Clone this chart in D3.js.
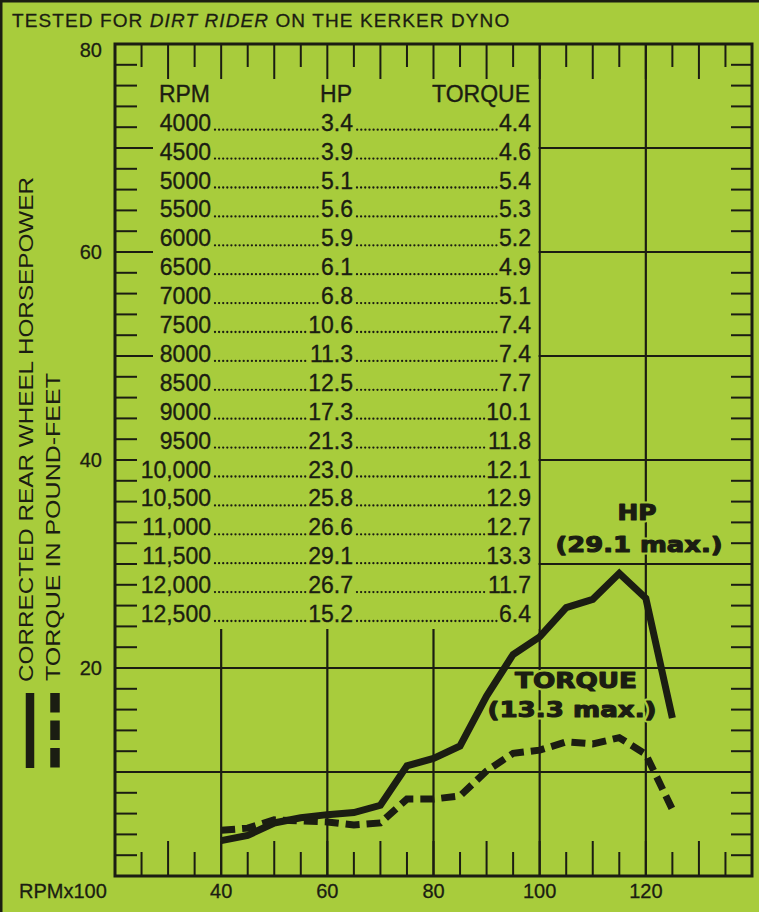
<!DOCTYPE html>
<meta charset="utf-8" />
<script src="https://d3js.org/d3.v7.min.js"></script>
<style>
  body { margin: 0; background: #a8cc3c; }
  text { font-family: "Liberation Sans", Arial, sans-serif; fill: #1b1d12; }
</style>

<svg width="759" height="912" id="dyno"></svg>

<script>
  // dyno readings (rpm, corrected rear wheel hp, torque lb-ft)
  var rpm = [4000, 4500, 5000, 5500, 6000, 6500, 7000, 7500, 8000, 8500,
             9000, 9500, 10000, 10500, 11000, 11500, 12000, 12500];
  var hp = [3.4, 3.9, 5.1, 5.6, 5.9, 6.1, 6.8, 10.6, 11.3, 12.5,
            17.3, 21.3, 23.0, 25.8, 26.6, 29.1, 26.7, 15.2];
  var torque = [4.4, 4.6, 5.4, 5.3, 5.2, 4.9, 5.1, 7.4, 7.4, 7.7,
                10.1, 11.8, 12.1, 12.9, 12.7, 13.3, 11.7, 6.4];

  var xLabels = [40, 60, 80, 100, 120];
  var yLabels = [20, 40, 60, 80];
  var tableHead = ["RPM", "HP", "TORQUE"];

  var bg = "#a8cc3c", ink = "#1b1d12";

  var svg = d3.select("svg");

  var x = d3.scaleLinear().domain([20, 140]).range([115, 752]);
  var y = d3.scaleLinear().domain([0, 80]).range([876, 44]);

  svg.append("rect").attr("width", 759).attr("height", 912).style("fill", bg);
  // scan edge
  svg.append("line").attr("x1", 0).attr("x2", 759).attr("y1", 1).attr("y2", 1)
    .style("stroke", ink).style("stroke-width", 3);
  svg.append("line").attr("x1", 1).attr("x2", 1).attr("y1", 0).attr("y2", 912)
    .style("stroke", ink).style("stroke-width", 3);

  // title
  var title = svg.append("text").attr("x", 12).attr("y", 27)
    .style("font-size", "19px").style("letter-spacing", "1.1px")
    .style("stroke", ink).style("stroke-width", 0.3);
  title.append("tspan").text("TESTED FOR ");
  title.append("tspan").style("font-style", "italic").text("DIRT RIDER");
  title.append("tspan").text(" ON THE KERKER DYNO");

  // grid
  var grid = svg.append("g").style("stroke", ink).style("stroke-width", 2.2);
  grid.selectAll("line.v").data(xLabels).enter().append("line")
    .attr("x1", d => x(d)).attr("x2", d => x(d))
    .attr("y1", y(80)).attr("y2", y(0));
  grid.selectAll("line.h").data(d3.range(10, 80, 10)).enter().append("line")
    .attr("x1", x(20)).attr("x2", x(140))
    .attr("y1", d => y(d)).attr("y2", d => y(d));

  // table panel hides the grid behind the figures
  svg.append("rect")
    .attr("x", x(20) + 1).attr("y", y(80) + 1)
    .attr("width", x(100) - x(20) - 2.2).attr("height", 628 - y(80))
    .style("fill", bg);

  // ticks
  var ticks = svg.append("g").style("stroke", ink).style("stroke-width", 2);
  var xt = d3.range(25, 140, 5);
  ticks.selectAll("line.top").data(xt).enter().append("line")
    .attr("x1", d => x(d)).attr("x2", d => x(d))
    .attr("y1", y(80)).attr("y2", d => y(80) + (d % 10 == 0 ? 35 : 23));
  ticks.selectAll("line.bot").data(xt).enter().append("line")
    .attr("x1", d => x(d)).attr("x2", d => x(d))
    .attr("y1", y(0)).attr("y2", d => y(0) - (d % 10 == 0 ? 35 : 24));
  var yt = d3.range(2, 80, 2);
  ticks.selectAll("line.left").data(yt).enter().append("line")
    .attr("x1", x(20)).attr("x2", d => x(20) + (d % 10 == 0 && d >= 50 ? 38 : 22))
    .attr("y1", d => y(d)).attr("y2", d => y(d));
  ticks.selectAll("line.right").data(yt).enter().append("line")
    .attr("x1", x(140)).attr("x2", x(140) - 21)
    .attr("y1", d => y(d)).attr("y2", d => y(d));

  // frame
  svg.append("rect")
    .attr("x", x(20)).attr("y", y(80))
    .attr("width", x(140) - x(20)).attr("height", y(0) - y(80))
    .style("fill", "none").style("stroke", ink).style("stroke-width", 3);

  // axis labels
  var labels = svg.append("g").style("font-size", "20px")
    .style("stroke", ink).style("stroke-width", 0.3);
  labels.selectAll("text.xl").data(xLabels).enter().append("text")
    .attr("x", d => x(d)).attr("y", 898)
    .attr("text-anchor", "middle")
    .text(d => d);
  labels.append("text").attr("x", 19).attr("y", 898).text("RPMx100");
  labels.selectAll("text.yl").data(yLabels).enter().append("text")
    .attr("x", 102).attr("y", d => y(d) + (d == 80 ? 6 : 0))
    .attr("dy", "0.35em").attr("text-anchor", "end")
    .text(d => d);

  // table
  var colRight = [211, 353, 531];
  var rowY = i => 130.7 + i * 28.9;
  var table = svg.append("g").style("font-size", "23px");
  table.selectAll("text.head").data(tableHead).enter().append("text")
    .attr("x", (d, i) => colRight[i] - 1).attr("y", rowY(-1))
    .attr("text-anchor", "end")
    .style("stroke", ink).style("stroke-width", 0.35)
    .text(d => d);

  var fmtRpm = r => r >= 10000 ? d3.format(",")(r) : String(r);
  var rows = rpm.map((r, i) => [fmtRpm(r), hp[i].toFixed(1), torque[i].toFixed(1)]);
  rows.forEach(function (row, i) {
    var boxes = row.map(function (s, j) {
      var t = table.append("text")
        .attr("x", colRight[j]).attr("y", rowY(i))
        .attr("text-anchor", "end")
        .style("stroke", ink).style("stroke-width", 0.35)
        .text(s);
      return t.node().getBBox();
    });
    // dot leaders
    for (var j = 0; j < 2; j++) {
      table.append("line")
        .attr("x1", boxes[j].x + boxes[j].width + 4)
        .attr("x2", boxes[j + 1].x - 1)
        .attr("y1", rowY(i) - 1).attr("y2", rowY(i) - 1)
        .style("stroke", ink).style("stroke-width", 2.3)
        .style("stroke-linecap", "round")
        .style("stroke-dasharray", "0,4.1");
    }
  });

  // curves
  var line = d3.line().x(d => x(d[0] / 100)).y(d => y(d[1]));
  svg.append("path")
    .attr("d", line(rpm.map((r, i) => [r, hp[i]])))
    .style("fill", "none").style("stroke", ink).style("stroke-width", 7);
  svg.append("path")
    .attr("d", line(rpm.map((r, i) => [r, torque[i]])))
    .style("fill", "none").style("stroke", ink).style("stroke-width", 7)
    .style("stroke-dasharray", "14,7");

  // curve notes: green halo underneath, heavy ink on top
  function note(txt, cx, by, len) {
    [[bg, 5], [ink, 1.1]].forEach(function (s) {
      svg.append("text").attr("x", cx).attr("y", by)
        .attr("text-anchor", "middle")
        .attr("textLength", len).attr("lengthAdjust", "spacingAndGlyphs")
        .style("font-family", "'DejaVu Sans', sans-serif")
        .style("font-weight", "bold").style("font-size", "21px")
        .style("stroke", s[0]).style("stroke-width", s[1])
        .style("stroke-linejoin", "round")
        .text(txt);
    });
  }
  note("HP", 637, 520, 39);
  note("(" + d3.max(hp).toFixed(1) + " max.)", 639, 552, 167);
  note("TORQUE", 576, 688, 122);
  note("(" + d3.max(torque).toFixed(1) + " max.)", 572, 717, 169);

  // legend along the left edge
  svg.append("text").attr("transform", "translate(33,682) rotate(-90)")
    .attr("textLength", 505).attr("lengthAdjust", "spacingAndGlyphs")
    .style("font-size", "21px").text("CORRECTED REAR WHEEL HORSEPOWER");
  svg.append("text").attr("transform", "translate(60,681) rotate(-90)")
    .attr("textLength", 308).attr("lengthAdjust", "spacingAndGlyphs")
    .style("font-size", "21px").text("TORQUE IN POUND-FEET");
  svg.append("line").attr("x1", 30).attr("x2", 30).attr("y1", 693).attr("y2", 768)
    .style("stroke", ink).style("stroke-width", 8.5);
  svg.append("line").attr("x1", 55).attr("x2", 55).attr("y1", 693).attr("y2", 768)
    .style("stroke", ink).style("stroke-width", 9.5)
    .style("stroke-dasharray", "19.5,8");
</script>
